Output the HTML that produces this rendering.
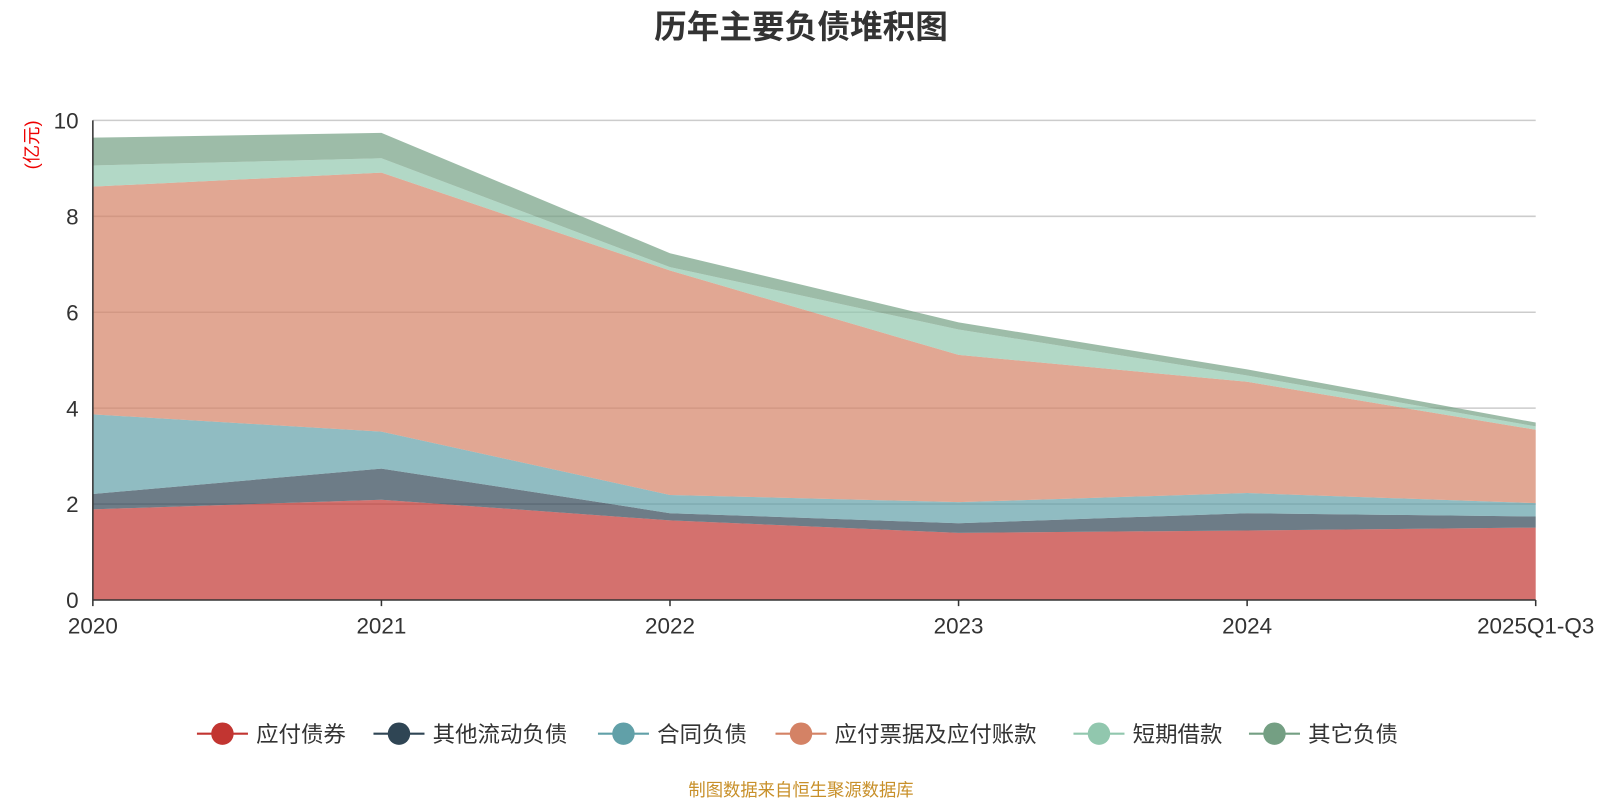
<!DOCTYPE html>
<html><head><meta charset="utf-8">
<style>
body{margin:0;background:#fff;width:1600px;height:800px;overflow:hidden;font-family:"Liberation Sans","Noto Sans CJK SC",sans-serif;}
</style></head><body>
<svg width="1600" height="800" xmlns="http://www.w3.org/2000/svg" font-family="Liberation Sans, Noto Sans CJK SC, sans-serif"><g id="chart" transform="scale(1.0204)"></g></svg>
<script>
const categories=["2020","2021","2022","2023","2024","2025Q1-Q3"];
const seriesNames=["应付债券","其他流动负债","合同负债","应付票据及应付账款","短期借款","其它负债"];
const bonds=[1.89,2.09,1.66,1.40,1.45,1.51];
const otherCurrent=[0.32,0.65,0.15,0.20,0.36,0.23];
const contract=[1.66,0.77,0.38,0.44,0.42,0.28];
const payables=[4.75,5.40,4.68,3.07,2.32,1.53];
const shortLoans=[0.44,0.30,0.07,0.53,0.13,0.07];
const otherLiab=[0.58,0.53,0.29,0.15,0.13,0.08];
const yTicks=[0,2,4,6,8,10];
const colors=["#c23531","#2f4554","#61a0a8","#d48265","#91c7ae","#749f83"];
const series=[bonds,otherCurrent,contract,payables,shortLoans,otherLiab];
const svg=document.getElementById('chart');
const NS="http://www.w3.org/2000/svg";
const X0=91,X1=1505,Y0=588,Y1=118,YMAX=10;
const xs=i=>X0+(X1-X0)*i/(categories.length-1);
const ys=v=>Y0-(Y0-Y1)*v/YMAX;
function mk(tag,attrs,parent){const e=document.createElementNS(NS,tag);for(const k in attrs)e.setAttribute(k,attrs[k]);(parent||svg).appendChild(e);return e;}
let t=mk('text',{x:785,y:37,'text-anchor':'middle','font-size':32,'font-weight':'bold',fill:'#333'});t.textContent="历年主要负债堆积图";

yTicks.forEach(v=>{
 if(v>0){const l=mk('line',{x1:X0,x2:X1,y1:ys(v),y2:ys(v),stroke:'#ccc','stroke-width':1.5});
 }
 const tt=mk('text',{x:X0-14,y:ys(v)+8,'text-anchor':'end','font-size':22,fill:'#333'});tt.textContent=v;
 
});
let yl=mk('text',{x:0,y:0,transform:'translate(37,142) rotate(-90)','text-anchor':'middle','font-size':18,fill:'#e00'});yl.textContent="(亿元)";

let base=categories.map(()=>0);
series.forEach((s,k)=>{
 const top=base.map((b,i)=>b+s[i]);
 let d="M"+top.map((v,i)=>xs(i)+","+ys(v)).join(" L");
 for(let i=categories.length-1;i>=0;i--)d+=" L"+xs(i)+","+ys(base[i]);
 const p=mk('path',{d:d+"Z",fill:colors[k],'fill-opacity':0.7,stroke:'none'});
 
 base=top;
});
let ax=mk('line',{x1:X0,x2:X0,y1:Y1,y2:Y0,stroke:'#333','stroke-width':1.5});

let bx=mk('line',{x1:X0,x2:X1,y1:Y0,y2:Y0,stroke:'#333','stroke-width':1.5});

categories.forEach((c,i)=>{
 const tk=mk('line',{x1:xs(i),x2:xs(i),y1:Y0,y2:Y0+6,stroke:'#333','stroke-width':1.5});
 
 const tt=mk('text',{x:xs(i),y:621,'text-anchor':'middle','font-size':22,fill:'#333'});tt.textContent=c;
 
});
const legX=[193,366,586,760,1052,1224];
seriesNames.forEach((n,k)=>{
 const g=mk('g',{});
 
 mk('line',{x1:legX[k],x2:legX[k]+50,y1:719,y2:719,stroke:colors[k],'stroke-width':2},g);
 mk('circle',{cx:legX[k]+25,cy:719,r:11,fill:colors[k]},g);
 const tt=mk('text',{x:legX[k]+58,y:727,'font-size':22,fill:'#333'},g);tt.textContent=n;
});
let f=mk('text',{x:785,y:780,'text-anchor':'middle','font-size':17,fill:'#c8902a'});f.textContent="制图数据来自恒生聚源数据库";

</script>
</body></html>
